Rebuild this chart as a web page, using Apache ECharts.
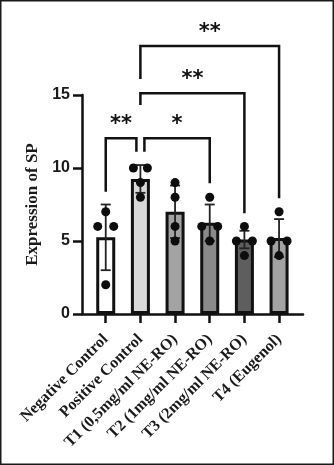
<!DOCTYPE html>
<html>
<head>
<meta charset="utf-8">
<script src="https://cdn.jsdelivr.net/npm/echarts@6/dist/echarts.min.js"></script>
<style>
html,body{margin:0;padding:0;background:#fff;}
#c{width:334px;height:465px;}
</style>
</head>
<body>
<div id="c"></div>
<script>
// ---- data ----
var categories = ['Negative Control', 'Positive Control', 'T1 (0,5mg/ml NE-RO)', 'T2 (1mg/ml NE-RO)', 'T3 (2mg/ml NE-RO)', 'T4 (Eugenol)'];
var means = [5.25, 9.25, 7.0, 6.25, 5.1, 5.2];
var sds = [2.25, 0.95, 1.8, 1.25, 0.6, 1.3];
var pointsNeg = [7, 6, 6, 2];
var pointsPos = [10, 10, 9, 8];
var pointsT1 = [9, 8, 6, 5];
var pointsT2 = [8, 6, 6, 5];
var pointsT3 = [6, 5, 5, 4];
var pointsT4 = [7, 5, 5, 4];
var yTicks = [0, 5, 10, 15];
// significance brackets: [from category, to category, top value, left leg end, right leg end]
var brackets = [[0, 1, 12.03, 8.38, 11.12], [1, 3, 12.03, 11.12, 8.95], [1, 4, 15.12, 14.32, 6.9], [1, 5, 18.36, 16.1, 7.92]];
var bracketLabels = ['**', '*', '**', '**'];

// ---- styling / layout ----
var barColors = ['#ffffff', '#d9d9d9', '#a3a3a3', '#8a8a8a', '#5e5e5e', '#a3a3a3'];
var jitter = [[0, -8, 8, 0], [-7, 7, 0, 0], [0, 0, 0, 0], [0, -8, 8, 0], [0, -8, 8, 0], [0, -8, 8, 0]];
var legShift = [[0, -4], [4, 0], [0, 0], [0, 0]];
var allPoints = [pointsNeg, pointsPos, pointsT1, pointsT2, pointsT3, pointsT4];

var dotData = [];
allPoints.forEach(function (arr, ci) {
  arr.forEach(function (v, k) {
    dotData.push({ value: [ci, v], symbolOffset: [jitter[ci][k], 0] });
  });
});

var serif = '"Liberation Serif", "Times New Roman", serif';
var sans = '"Liberation Sans", Arial, sans-serif';
var TOP = 95, BOTTOM = 151;

var chart = echarts.init(document.getElementById('c'), null, { renderer: 'canvas' });
chart.setOption({
  animation: false,
  backgroundColor: '#fff',
  graphic: [{
    type: 'rect', shape: { x: 0.75, y: 0.75, width: 332.5, height: 463.5 },
    style: { fill: 'none', stroke: '#1a1a1a', lineWidth: 1.5 }, z: 100
  }],
  grid: [
    { left: 88.4, right: 37.6, top: TOP, bottom: BOTTOM },
    { left: 82, right: 31, top: TOP, bottom: BOTTOM }
  ],
  xAxis: [
    {
      type: 'category', gridIndex: 0, data: categories,
      axisLine: { show: false },
      axisTick: { show: true, alignWithLabel: true, length: 9, lineStyle: { color: '#111', width: 2.5 } },
      axisLabel: {
        rotate: 45, margin: 23, interval: 0,
        fontFamily: serif, fontWeight: 'bold', fontSize: 16, color: '#1a1a1a'
      },
      splitLine: { show: false }
    },
    {
      type: 'value', gridIndex: 1, min: 0, max: 1,
      axisLine: { show: true, onZero: false, lineStyle: { color: '#111', width: 2.5 } },
      axisTick: { show: false }, axisLabel: { show: false }, splitLine: { show: false }
    }
  ],
  yAxis: [
    { type: 'value', gridIndex: 0, min: 0, max: 15, show: false, splitLine: { show: false } },
    {
      type: 'value', gridIndex: 1, min: 0, max: 15, interval: 5,
      axisLine: { show: true, lineStyle: { color: '#111', width: 2.5 } },
      axisTick: { show: true, length: 9, lineStyle: { color: '#111', width: 2.5 } },
      axisLabel: {
        margin: 12, fontFamily: sans, fontWeight: 'bold', fontSize: 16, color: '#1a1a1a',
        formatter: function (v) { return yTicks.indexOf(v) >= 0 ? String(v) : ''; }
      },
      splitLine: { show: false },
      name: 'Expression of SP', nameLocation: 'middle', nameGap: 38,
      nameTextStyle: { fontFamily: serif, fontWeight: 'bold', fontSize: 17, color: '#1a1a1a' }
    }
  ],
  series: [
    {
      type: 'bar', xAxisIndex: 0, yAxisIndex: 0,
      data: means.map(function (m, i) {
        return { value: m, itemStyle: { color: barColors[i] } };
      }),
      barWidth: 19,
      itemStyle: { borderColor: '#111', borderWidth: 3 },
      z: 2
    },
    {
      type: 'custom', xAxisIndex: 0, yAxisIndex: 0,
      data: means.map(function (m, i) { return [i, m, sds[i]]; }),
      renderItem: function (params, api) {
        var x = api.value(0), m = api.value(1), s = api.value(2);
        var hi = api.coord([x, m + s]), lo = api.coord([x, m - s]);
        var cx = hi[0], hw = 5;
        var st = { stroke: '#222', lineWidth: 1.8, fill: 'none' };
        return {
          type: 'group', children: [
            { type: 'line', shape: { x1: cx, y1: hi[1], x2: cx, y2: lo[1] }, style: st },
            { type: 'line', shape: { x1: cx - hw, y1: hi[1], x2: cx + hw, y2: hi[1] }, style: st },
            { type: 'line', shape: { x1: cx - hw, y1: lo[1], x2: cx + hw, y2: lo[1] }, style: st }
          ]
        };
      },
      z: 3
    },
    {
      type: 'scatter', xAxisIndex: 0, yAxisIndex: 0,
      data: dotData, symbol: 'circle', symbolSize: 9,
      itemStyle: { color: '#0d0d0d', opacity: 1 },
      z: 4
    },
    {
      type: 'custom', xAxisIndex: 0, yAxisIndex: 0, clip: false,
      data: brackets,
      renderItem: function (params, api) {
        var i = params.dataIndex;
        var a = api.value(0), b = api.value(1), top = api.value(2), le = api.value(3), re = api.value(4);
        var pA = api.coord([a, top]), pB = api.coord([b, top]);
        var xA = pA[0] + legShift[i][0], xB = pB[0] + legShift[i][1];
        var yT = pA[1];
        var yL = api.coord([a, le])[1], yR = api.coord([b, re])[1];
        return {
          type: 'group', children: [
            {
              type: 'polyline',
              shape: { points: [[xA, yL], [xA, yT], [xB, yT], [xB, yR]] },
              style: { stroke: '#111', lineWidth: 2.5, fill: 'none', lineJoin: 'miter' }
            },
            {
              type: 'text',
              style: {
                x: (xA + xB) / 2, y: yT - 3, text: bracketLabels[i],
                align: 'center', verticalAlign: 'bottom',
                font: 'bold 21px "DejaVu Sans", sans-serif', fill: '#111'
              }
            }
          ]
        };
      },
      z: 5
    }
  ]
});
</script>
</body>
</html>
